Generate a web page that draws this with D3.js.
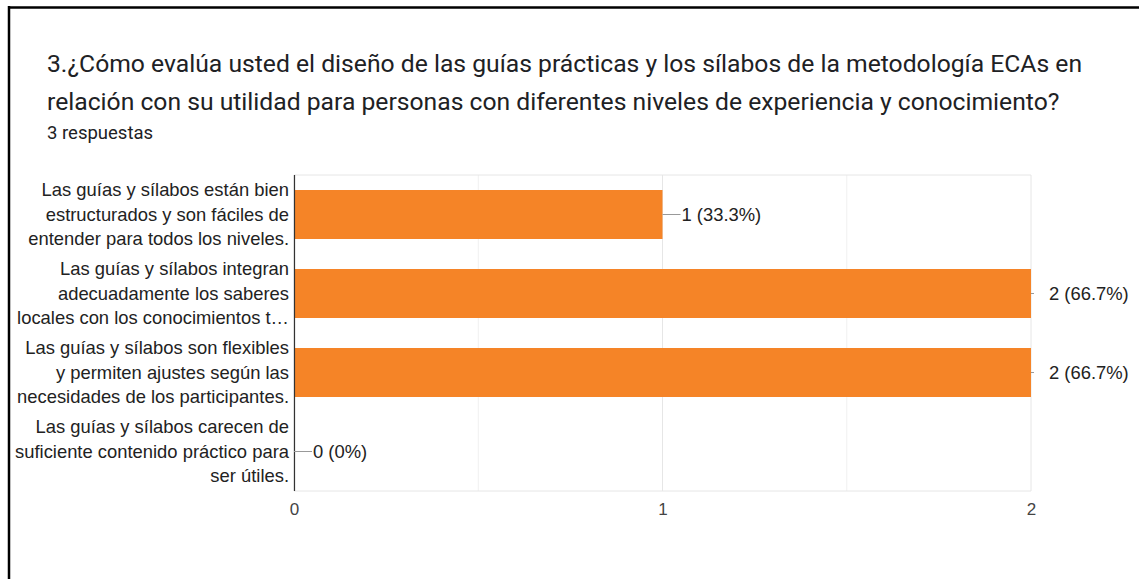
<!DOCTYPE html>
<html>
<head>
<meta charset="utf-8">
<script src="https://cdn.jsdelivr.net/npm/d3@7"></script>
<style>
  body { margin: 0; background: #fff; }
  svg { display: block; }
</style>
</head>
<body>
<div id="chart"></div>
<script>
var width = 1139
var height = 579

// data
var categories = [
    "Las guías y sílabos están bien estructurados y son fáciles de entender para todos los niveles.",
    "Las guías y sílabos integran adecuadamente los saberes locales con los conocimientos técnicos.",
    "Las guías y sílabos son flexibles y permiten ajustes según las necesidades de los participantes.",
    "Las guías y sílabos carecen de suficiente contenido práctico para ser útiles."
]
var counts = [1, 2, 2, 0]
var percents = ["33.3%", "66.7%", "66.7%", "0%"]
var xTicks = [0, 1, 2]
var titleLines = [
    "3.¿Cómo evalúa usted el diseño de las guías prácticas y los sílabos de la metodología ECAs en",
    "relación con su utilidad para personas con diferentes niveles de experiencia y conocimiento?"
]
var subtitle = "3 respuestas"

var margin = {top: 175, left: 294, right: 108, bottom: 88}
var plotW = width - margin.left - margin.right,
    plotH = height - margin.top - margin.bottom

var labelFont = "normal 18.4px Arial"

var svg = d3.select("#chart")
    .append("svg")
    .attr("width", width)
    .attr("height", height)

// frame (top + left visible)
svg.append("line")
    .attr("x1", 8).attr("x2", width)
    .attr("y1", 7.5).attr("y2", 7.5)
    .style("stroke", "#000").style("stroke-width", 2.5)
svg.append("line")
    .attr("x1", 9).attr("x2", 9)
    .attr("y1", 6).attr("y2", height)
    .style("stroke", "#000").style("stroke-width", 2.5)

// title
svg.selectAll("text.title")
    .data(titleLines)
    .enter().append("text")
    .attr("class", "title")
    .attr("x", 47)
    .attr("y", (d, i) => 72 + i * 38)
    .style("font", "normal 24.7px Roboto")
    .style("fill", "#202124")
    .text(d => d)

svg.append("text")
    .attr("x", 47)
    .attr("y", 139)
    .style("font", "normal 18.5px Roboto")
    .style("fill", "#202124")
    .text(subtitle)

var g = svg.append("g")
    .attr("transform", "translate(" + margin.left + "," + margin.top + ")")

var x = d3.scaleLinear().domain([0, 2]).range([0, plotW])
var y = d3.scaleBand().domain(d3.range(categories.length)).range([0, plotH]).paddingInner(0.38).paddingOuter(0.19)

// gridlines
g.selectAll("line.grid")
    .data(d3.range(0, 2.01, 0.5))
    .enter().append("line")
    .attr("class", "grid")
    .attr("x1", d => x(d)).attr("x2", d => x(d))
    .attr("y1", 0).attr("y2", plotH)
    .style("stroke", d => d % 1 === 0 ? "#e6e6e6" : "#f0f0f0")
    .style("stroke-width", 1)

g.selectAll("line.hgrid")
    .data([0, plotH])
    .enter().append("line")
    .attr("class", "hgrid")
    .attr("x1", 0).attr("x2", plotW)
    .attr("y1", d => d).attr("y2", d => d)
    .style("stroke", "#e6e6e6")

// bars
g.selectAll("rect.bar")
    .data(counts)
    .enter().append("rect")
    .attr("class", "bar")
    .attr("x", 0)
    .attr("y", (d, i) => y(i))
    .attr("width", d => x(d))
    .attr("height", y.bandwidth())
    .style("fill", "#f58427")

// y axis line
g.append("line")
    .attr("x1", 0.5).attr("x2", 0.5)
    .attr("y1", 0).attr("y2", plotH)
    .style("stroke", "#333").style("stroke-width", 1.2)

// x tick labels
var xAxis = d3.axisBottom(x).tickValues(xTicks).tickFormat(d3.format("d")).tickSize(0).tickPadding(12)
var ax = g.append("g")
    .attr("transform", "translate(0," + plotH + ")")
    .call(xAxis)
ax.select(".domain").remove()
ax.selectAll("text")
    .style("font", "normal 17px Arial")
    .style("fill", "#444")

// value labels
counts.forEach(function(c, i) {
    var cy = y(i) + y.bandwidth() / 2
    var atMax = c === 2
    var x0 = x(c)
    g.append("line")
        .attr("x1", x0).attr("x2", atMax ? x0 + 3 : x0 + 18)
        .attr("y1", cy).attr("y2", cy)
        .style("stroke", "#999")
    g.append("text")
        .attr("x", atMax ? x0 + 18 : x0 + 19)
        .attr("y", cy)
        .attr("dy", ".35em")
        .style("font", labelFont)
        .style("fill", "#222")
        .text(c + " (" + percents[i] + ")")
})

// category labels, wrapped to 3 lines
var maxW = 275
function wrap(label) {
    var words = label.split(" ")
    var lines = []
    var cur = ""
    var tmp = svg.append("text").style("font", labelFont)
    function w(s) { tmp.text(s); return tmp.node().getComputedTextLength() }
    words.forEach(function(wd) {
        var t = cur ? cur + " " + wd : wd
        if (w(t) > maxW && cur) { lines.push(cur); cur = wd } else cur = t
    })
    lines.push(cur)
    if (lines.length > 3) {
        var l = lines[2] + " " + lines.slice(3).join(" ")
        while (w(l + "…") > maxW) l = l.slice(0, -1)
        lines = [lines[0], lines[1], l.replace(/\s+$/, "") + "…"]
    }
    tmp.remove()
    return lines
}

categories.forEach(function(cat, i) {
    var lines = wrap(cat)
    var cy = y(i) + y.bandwidth() / 2
    var lh = 24.5
    var t = g.append("text")
        .attr("text-anchor", "end")
        .style("font", labelFont)
        .style("fill", "#222")
    lines.forEach(function(l, k) {
        t.append("tspan")
            .attr("x", -5)
            .attr("y", cy + (k - (lines.length - 1) / 2) * lh)
            .attr("dy", ".35em")
            .text(l)
    })
})
</script>
</body>
</html>
